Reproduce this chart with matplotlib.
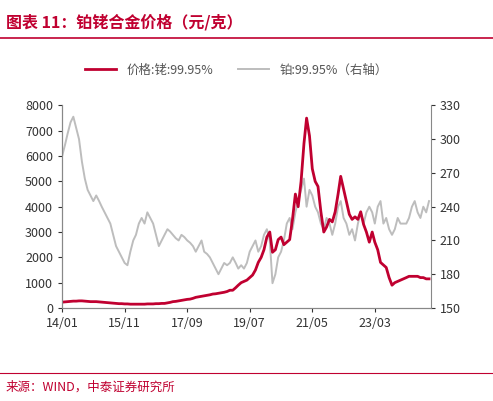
import numpy as np
import pandas as pd
import matplotlib.pyplot as plt

plt.rcParams['font.family'] = ['Noto Sans CJK SC', 'DejaVu Sans']

# 铑 价格（元/克），月度 2014/01 起
rhodium = [
    230, 240, 250, 260, 270, 270, 280, 280, 270, 260, 250, 250,
    250, 240, 230, 220, 210, 200, 190, 180, 170, 170, 160, 160,
    150, 150, 150, 150, 150, 150, 160, 160, 160, 170, 170, 180,
    180, 200, 220, 250, 260, 280, 300, 320, 340, 350, 380, 420,
    440, 460, 480, 500, 520, 550, 560, 580, 600, 620, 650, 700,
    700, 800, 900, 1000, 1050, 1100, 1200, 1300, 1500, 1800, 2000, 2300,
    2800, 3000, 2200, 2300, 2700, 2800, 2500, 2600, 2700, 3500, 4500, 4000,
    5000, 6500, 7500, 6800, 5500, 5000, 4800, 3800, 3000, 3200, 3500, 3400,
    3800, 4500, 5200, 4700, 4200, 3700, 3500, 3600, 3500, 3800, 3300, 3000,
    2600, 3000, 2600, 2300, 1800, 1700, 1600, 1200, 900, 1000, 1050, 1100,
    1150, 1200, 1250, 1250, 1250, 1250, 1200, 1200, 1150, 1150,
]
# 铂 价格（元/克，右轴）
platinum = [
    285, 295, 305, 315, 320, 310, 300, 280, 265, 255, 250, 245,
    250, 245, 240, 235, 230, 225, 215, 205, 200, 195, 190, 188,
    200, 210, 215, 225, 230, 225, 235, 230, 225, 215, 205, 210,
    215, 220, 218, 215, 212, 210, 215, 213, 210, 208, 205, 200,
    205, 210, 200, 198, 195, 190, 185, 180, 185, 190, 188, 190,
    195, 190, 185, 188, 185, 190, 200, 205, 210, 200, 205, 215,
    220, 210, 172, 180, 195, 200, 210, 225, 230, 220, 235, 245,
    255, 265, 240, 255, 250, 240, 235, 225, 220, 230, 225, 215,
    225, 240, 245, 230, 225, 215, 220, 210, 225, 235, 225, 235,
    240, 235, 225, 240, 245, 225, 230, 220, 215, 220, 230, 225,
    225, 225, 230, 240, 245, 235, 230, 240, 235, 245,
]
dates = pd.date_range("2014-01-01", periods=len(rhodium), freq="MS")
tick_dates = pd.to_datetime(["2014-01-01", "2015-11-01", "2017-09-01",
                             "2019-07-01", "2021-05-01", "2023-03-01"])
tick_labels = ["14/01", "15/11", "17/09", "19/07", "21/05", "23/03"]

RED = "#c00030"
GRAY = "#bdbdbd"

fig = plt.figure(figsize=(4.93, 4.01), dpi=100)
ax = fig.add_axes([0.126, 0.232, 0.748, 0.505])
ax2 = ax.twinx()

ax2.plot(dates, platinum, color=GRAY, linewidth=1.4, label="铂:99.95%（右轴）")
ax.plot(dates, rhodium, color=RED, linewidth=2.0, label="价格:铑:99.95%")
ax.set_zorder(ax2.get_zorder() + 1)
ax.patch.set_visible(False)

ax.set_ylim(0, 8000)
ax.set_yticks(range(0, 8001, 1000))
ax2.set_ylim(150, 330)
ax2.set_yticks(range(150, 331, 30))
ax.set_xlim(dates[0], dates[-1] + pd.Timedelta(days=20))
ax.set_xticks(tick_dates)
ax.set_xticklabels(tick_labels)

for a in (ax, ax2):
    a.spines["top"].set_visible(False)
    for s in ("left", "right", "bottom"):
        a.spines[s].set_color("#888888")
    a.tick_params(labelsize=9, colors="#333333", length=3)
ax.spines["right"].set_visible(False)

h1, l1 = ax.get_legend_handles_labels()
h2, l2 = ax2.get_legend_handles_labels()
fig.legend(h1 + h2, l1 + l2, loc="upper left", bbox_to_anchor=(0.15, 0.87),
           ncol=2, frameon=False, fontsize=9, handlelength=2.5,
           columnspacing=2.0, labelcolor="#555555")

fig.text(0.012, 0.945, "图表 11：铂铑合金价格（元/克）", color=RED, fontsize=11.5,
         fontweight="bold", style="italic", va="center")
fig.add_artist(plt.Line2D([0.0, 1.0], [0.905, 0.905], color=RED, linewidth=1.2))
fig.add_artist(plt.Line2D([0.0, 1.0], [0.07, 0.07], color=RED, linewidth=0.8))
fig.text(0.012, 0.035, "来源：WIND，中泰证券研究所", color=RED, fontsize=9, va="center")

fig.savefig("out.png", dpi=100)
